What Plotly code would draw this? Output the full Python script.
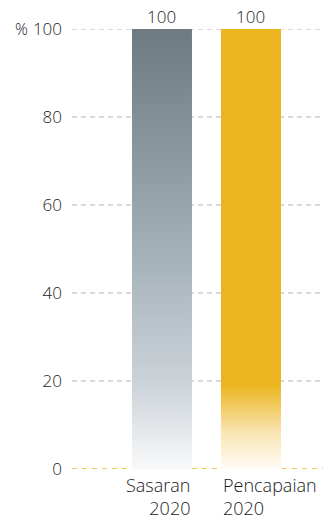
import plotly.graph_objects as go

categories = ["Sasaran<br>2020", "Pencapaian<br>2020"]
values = [100, 100]
value_labels = ["100", "100"]
tick_vals = [0, 20, 40, 60, 80, 100]
tick_text = ["0", "20", "40", "60", "80", "100"]

positions = [0, 1]
bar_w = 0.674
gray_scale = [[0, "#f8f9fa"], [0.2, "#cbd2d8"], [0.45, "#a9b5bc"],
              [0.72, "#8a979e"], [1, "#6e7a82"]]
gold_scale = [[0, "#fffcf6"], [0.08, "#f9e6b6"], [0.19, "#ecb520"], [1, "#ecb520"]]
scales = [gray_scale, gold_scale]

FONT = "Open Sans"
TXT = "#1a1a1a"
W = 300
fig = go.Figure()
for p, v, cs in zip(positions, values, scales):
    x0, x1 = p - bar_w / 2, p + bar_w / 2
    fig.add_trace(go.Scatter(
        x=[x0, x1, x1, x0, x0], y=[0, 0, v, v, 0],
        mode="lines", fill="toself", line=dict(width=0),
        fillgradient=dict(type="vertical", colorscale=cs),
        hoverinfo="skip", showlegend=False))

shapes = []
for t in tick_vals[1:]:
    shapes.append(dict(type="line", xref="paper", yref="y", x0=0, x1=1, y0=t, y1=t,
                       line=dict(color="#b3b3b3", width=1, dash="5px,4px"), layer="below"))
shapes.append(dict(type="line", xref="paper", yref="y", x0=0, x1=1, y0=0, y1=0,
                   line=dict(color="#f0b429", width=1.5, dash="5px,5px"), layer="below"))

annotations = []
for p, v, lab in zip(positions, values, value_labels):
    annotations.append(dict(x=p, y=v, xref="x", yref="y", text=lab, showarrow=False,
                            yanchor="bottom", yshift=-1,
                            font=dict(family=FONT, size=17, color=TXT, weight=W)))
anchors = ["right", "left"]
for p, c, a in zip(positions, categories, anchors):
    xpos = p + bar_w / 2 if a == "right" else p - bar_w / 2
    annotations.append(dict(x=xpos, y=0, xref="x", yref="paper", text=c, showarrow=False,
                            xanchor=a, align=a, yanchor="top", yshift=-2,
                            font=dict(family=FONT, size=18, color=TXT, weight=W)))
annotations.append(dict(x=0, y=100, xref="paper", yref="y", text="%",
                        showarrow=False, xanchor="right", yanchor="middle",
                        xshift=-42, yshift=0,
                        font=dict(family=FONT, size=16, color=TXT, weight=W)))

fig.update_layout(
    width=333, height=522,
    margin=dict(l=72, r=10, t=29, b=53, autoexpand=False),
    paper_bgcolor="white", plot_bgcolor="white",
    xaxis=dict(range=[-1.011, 1.809], showgrid=False, zeroline=False,
               showticklabels=False, fixedrange=True, automargin=False),
    yaxis=dict(range=[0, 100], tickvals=tick_vals, ticktext=tick_text,
               showgrid=False, zeroline=False, ticks="", ticklabelstandoff=9,
               automargin=False, fixedrange=True,
               tickfont=dict(family=FONT, size=17, color=TXT, weight=W)),
    shapes=shapes, annotations=annotations,
)
fig.write_html("out.html", config={"displayModeBar": False},
               post_script="document.body.style.margin='0px';")
